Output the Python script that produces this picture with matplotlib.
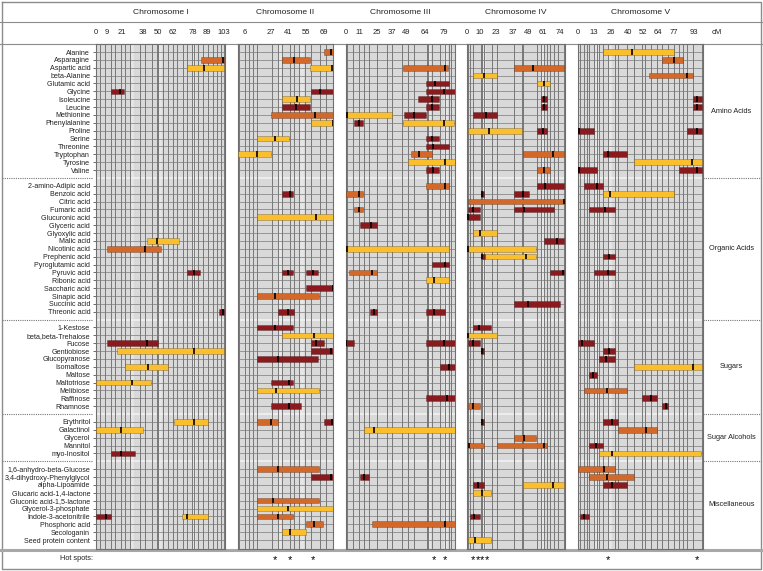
import matplotlib
matplotlib.use("Agg")
import matplotlib.pyplot as plt
from matplotlib.transforms import blended_transform_factory

plt.rcParams["font.family"] = ["Liberation Sans", "DejaVu Sans"]

# ---- traits, grouped ----
groups = ["Amino Acids", "Organic Acids", "Sugars", "Sugar Alcohols", "Miscellaneous"]
amino_acids = ["Alanine", "Asparagine", "Aspartic acid", "beta-Alanine", "Glutamic acid",
               "Glycine", "Isoleucine", "Leucine", "Methionine", "Phenylalanine", "Proline",
               "Serine", "Threonine", "Tryptophan", "Tyrosine", "Valine"]
organic_acids = ["2-amino-Adipic acid", "Benzoic acid", "Citric acid", "Fumaric acid",
                 "Glucuronic acid", "Glyceric acid", "Glyoxylic acid", "Malic acid",
                 "Nicotinic acid", "Prephenic acid", "Pyroglutamic acid", "Pyruvic acid",
                 "Ribonic acid", "Saccharic acid", "Sinapic acid", "Succinic acid",
                 "Threonic acid"]
sugars = ["1-Kestose", "beta,beta-Trehalose", "Fucose", "Gentiobiose", "Glucopyranose",
          "Isomaltose", "Maltose", "Maltotriose", "Melibiose", "Raffinose", "Rhamnose"]
sugar_alcohols = ["Erythritol", "Galactinol", "Glycerol", "Mannitol", "myo-Inositol"]
miscellaneous = ["1,6-anhydro-beta-Glucose", "3,4-dihydroxy-Phenylglycol", "alpha-Lipoamide",
                 "Glucaric acid-1,4-lactone", "Gluconic acid-1,5-lactone",
                 "Glycerol-3-phosphate", "Indole-3-acetonitrile", "Phosphoric acid",
                 "Secologanin", "Seed protein content"]
trait_groups = [amino_acids, organic_acids, sugars, sugar_alcohols, miscellaneous]

# ---- chromosomes (cM) ----
chromosomes = ["Chromosome I", "Chromosome II", "Chromosome III", "Chromosome IV", "Chromosome V"]
chr_length = [104, 77.1, 88, 78.5, 100.4]
chr_ticks = [[0, 9, 21, 38, 50, 62, 78, 89, 103],
             [6, 27, 41, 55, 69],
             [0, 11, 25, 37, 49, 64, 79],
             [0, 10, 23, 37, 49, 61, 74],
             [0, 13, 26, 40, 52, 64, 77, 93]]
markers_1 = [0, 3.5, 7.5, 12, 15.5, 20, 23.5, 27.5, 35.6, 39.6, 45, 49, 50.3, 53.8, 58.3,
             62.3, 65.5, 70.4, 73.6, 77.1, 79, 82.4, 86.4, 90.4, 94, 97.2, 100.4, 103.3]
markers_2 = [0, 1.5, 6.3, 9.5, 12.7, 15.4, 27.4, 32.8, 36, 42.2, 45.4, 49.7, 54.2, 58.8,
             66.3, 71.1, 77]
markers_3 = [0.4, 1.5, 6.3, 11.1, 14.9, 19.1, 25, 33, 37.1, 45.6, 50.4, 55.3, 65.2, 66.5,
             69.7, 75.9, 79.9, 83.1, 84.7, 88]
markers_4 = [0.3, 2.2, 4.3, 10.8, 12, 13.4, 19.6, 23.5, 37.5, 43.7, 44.9, 55.7, 59.2,
             61.8, 64, 66.7, 69.4, 73, 77.7]
markers_5 = [0, 1.6, 4.8, 7, 8.8, 12.9, 15, 16.6, 20.3, 24.3, 29.5, 32.4, 39.6, 45.2, 51.4,
             53.8, 58.6, 63.5, 67.2, 72.5, 76.9, 81.1, 84.6, 87.8, 92.6, 99.4]
markers = [markers_1, markers_2, markers_3, markers_4, markers_5]
# positions where several markers coincide (paler bands in the grid)
marker_bands = [[29, 51.5, 79], [34, 52], [67, 81], [13.5, 61], [15.5, 25.5]]

# ---- QTL intervals: (trait, start, end, peak, class) ----
qtl_1 = [("Asparagine", 84.6, 103, 102.5, "o"), ("Aspartic acid", 73.6, 103.3, 86.7, "y"),
         ("Glycine", 12.5, 22.7, 19.8, "r"), ("Malic acid", 41.2, 66.7, 49.5, "y"),
         ("Nicotinic acid", 8.8, 52.4, 39.4, "o"), ("Pyruvic acid", 73.6, 84, 78.7, "r"),
         ("Threonic acid", 99, 103.3, 102.5, "r"), ("Fucose", 8.8, 49.8, 41.2, "r"),
         ("Gentiobiose", 16.9, 103.3, 78.7, "y"), ("Isomaltose", 23.3, 58.3, 42.2, "y"),
         ("Maltotriose", 0.2, 44.4, 29.2, "y"), ("Erythritol", 62.9, 90.2, 78.7, "y"),
         ("Galactinol", 0.2, 38.2, 20.1, "y"), ("myo-Inositol", 12.5, 31.6, 20.1, "r"),
         ("Indole-3-acetonitrile", 0.2, 12.3, 8.3, "r"),
         ("Indole-3-acetonitrile", 69.3, 90.2, 73.3, "y")]
qtl_2 = [("Alanine", 69.5, 77, 74.7, "o"), ("Asparagine", 36, 58.5, 45.6, "o"),
         ("Aspartic acid", 58.4, 77, 76.1, "y"), ("Glycine", 58.8, 77, 66.3, "r"),
         ("Isoleucine", 36, 58.5, 48, "y"), ("Leucine", 36, 58.5, 47, "r"),
         ("Methionine", 27.2, 77, 62.2, "o"), ("Phenylalanine", 58.8, 77, 76.6, "y"),
         ("Serine", 15.7, 41.4, 30.1, "y"), ("Tryptophan", 0, 27.2, 15.7, "y"),
         ("Benzoic acid", 36, 44.3, 42.2, "r"), ("Glucuronic acid", 15.7, 77, 63.3, "y"),
         ("Pyruvic acid", 36, 44.3, 40.2, "r"), ("Pyruvic acid", 55, 64.9, 60.4, "r"),
         ("Saccharic acid", 55, 77, 76.6, "r"), ("Sinapic acid", 15.7, 65.3, 30.1, "o"),
         ("Threonic acid", 32.8, 45.3, 40.2, "r"), ("1-Kestose", 15.7, 44.3, 30.1, "r"),
         ("beta,beta-Trehalose", 36, 77, 61.2, "y"), ("Fucose", 58.8, 69.2, 63.3, "r"),
         ("Gentiobiose", 58.8, 77, 75.3, "r"), ("Glucopyranose", 15.7, 65, 32.8, "r"),
         ("Maltotriose", 27.2, 44.3, 41.4, "r"), ("Melibiose", 15.7, 65.3, 30.9, "y"),
         ("Rhamnose", 27.2, 50.8, 41.4, "r"), ("Erythritol", 15.7, 32.5, 27, "o"),
         ("Erythritol", 69.5, 77, 76.1, "r"),
         ("1,6-anhydro-beta-Glucose", 15.7, 65.3, 32.8, "o"),
         ("3,4-dihydroxy-Phenylglycol", 58.8, 77, 75.3, "r"),
         ("Gluconic acid-1,5-lactone", 15.7, 65.3, 28.8, "o"),
         ("Glycerol-3-phosphate", 15.7, 77, 40.2, "y"),
         ("Indole-3-acetonitrile", 15.7, 44.3, 32.8, "o"),
         ("Phosphoric acid", 55, 69, 61.7, "o"), ("Secologanin", 36, 55, 42.2, "y")]
qtl_3 = [("Aspartic acid", 45.9, 82.6, 79.9, "o"), ("Glutamic acid", 64.7, 82.9, 72.1, "r"),
         ("Glycine", 64.7, 88, 79.1, "r"), ("Isoleucine", 58.1, 75.5, 69.2, "r"),
         ("Leucine", 64.7, 75.5, 69.2, "r"), ("Methionine", 1, 37.3, 1.5, "y"),
         ("Methionine", 47, 64.4, 55, "r"), ("Phenylalanine", 6.8, 14.3, 11.1, "r"),
         ("Phenylalanine", 45.9, 87.4, 79.1, "y"), ("Serine", 64.7, 75.5, 69.2, "r"),
         ("Threonine", 64.7, 82.9, 70, "r"), ("Tryptophan", 52.4, 69.2, 59, "o"),
         ("Tyrosine", 50.2, 88, 79.9, "y"), ("Valine", 64.7, 75.5, 70, "r"),
         ("2-amino-Adipic acid", 64.7, 82.9, 79.9, "o"), ("Benzoic acid", 0.4, 14.3, 10.6, "o"),
         ("Fumaric acid", 6.8, 14.3, 10.6, "o"), ("Glyceric acid", 11.4, 25.3, 20.5, "r"),
         ("Nicotinic acid", 0.4, 82.9, 1.5, "y"), ("Pyroglutamic acid", 69.6, 82.9, 79.9, "r"),
         ("Pyruvic acid", 2.8, 25.3, 21.4, "o"), ("Ribonic acid", 64.9, 82.9, 71.1, "y"),
         ("Threonic acid", 19.7, 25.3, 22.5, "r"), ("Threonic acid", 64.7, 80, 71.1, "r"),
         ("Fucose", 0.4, 6.6, 0.6, "r"), ("Fucose", 64.7, 88, 79.1, "r"),
         ("Isomaltose", 76.1, 88, 83.2, "r"), ("Raffinose", 64.7, 88, 81.3, "r"),
         ("Galactinol", 14.9, 88, 22.9, "y"),
         ("3,4-dihydroxy-Phenylglycol", 11.4, 18.6, 14.9, "r"),
         ("Phosphoric acid", 21.4, 88, 79.9, "o")]
qtl_4 = [("Aspartic acid", 37.5, 77.7, 52.4, "o"), ("beta-Alanine", 4.3, 23.6, 13.4, "y"),
         ("Glutamic acid", 55.7, 66.4, 61.6, "y"), ("Isoleucine", 59, 63.9, 61.4, "r"),
         ("Leucine", 59, 63.9, 61.4, "r"), ("Methionine", 4.6, 23.6, 15.3, "r"),
         ("Proline", 0.3, 43.7, 17.3, "y"), ("Proline", 55.7, 63.9, 61, "r"),
         ("Tryptophan", 44.8, 77.5, 68.8, "o"), ("Valine", 55.7, 66.4, 61.4, "o"),
         ("2-amino-Adipic acid", 55.7, 77.7, 62.6, "r"), ("Benzoic acid", 10.8, 13.4, 12, "r"),
         ("Benzoic acid", 37.5, 49.3, 44.8, "r"), ("Citric acid", 0.3, 78.5, 78, "o"),
         ("Fumaric acid", 0.6, 10.2, 4.3, "r"), ("Fumaric acid", 37.5, 69.4, 45.3, "r"),
         ("Glucuronic acid", 0.3, 10.2, 0.5, "r"), ("Glyoxylic acid", 4.3, 23.6, 10.6, "y"),
         ("Malic acid", 61.8, 77.7, 71.9, "r"), ("Nicotinic acid", 0.3, 55.4, 0.5, "y"),
         ("Prephenic acid", 10.8, 55.4, 47.4, "y"), ("Prephenic acid", 10.8, 14.1, 12, "r"),
         ("Pyruvic acid", 66.7, 77.7, 76.6, "r"), ("Succinic acid", 37.5, 74.5, 48.7, "r"),
         ("1-Kestose", 4.6, 19, 9.4, "r"), ("beta,beta-Trehalose", 0.3, 23.6, 0.5, "y"),
         ("Fucose", 0.6, 10.2, 4.3, "r"), ("Gentiobiose", 10.8, 13.4, 12, "r"),
         ("Rhamnose", 0.6, 10.2, 4.3, "o"), ("Erythritol", 10.8, 13.4, 12, "r"),
         ("Glycerol", 37.5, 55.4, 45.3, "o"), ("Mannitol", 0.6, 13.4, 1.3, "o"),
         ("Mannitol", 23.9, 63.8, 61.8, "o"), ("alpha-Lipoamide", 4.6, 13.1, 8.8, "r"),
         ("alpha-Lipoamide", 44.8, 77.7, 68.8, "y"),
         ("Glucaric acid-1,4-lactone", 4.6, 19, 12, "y"),
         ("Indole-3-acetonitrile", 1.9, 10.4, 5.1, "r"),
         ("Seed protein content", 0.6, 19, 6.2, "y")]
qtl_5 = [("Alanine", 20.3, 76.9, 43.4, "y"), ("Asparagine", 67.2, 84.6, 77.4, "o"),
         ("beta-Alanine", 57, 92.6, 87.6, "o"), ("Isoleucine", 92.6, 99.4, 95.8, "r"),
         ("Leucine", 92.6, 99.4, 95.8, "r"), ("Proline", 0, 12.6, 0.5, "r"),
         ("Proline", 87.8, 99.4, 95.8, "r"), ("Tryptophan", 20.3, 39.6, 24.3, "r"),
         ("Tyrosine", 45.2, 99.8, 91.8, "y"), ("Valine", 0, 15.3, 0.5, "r"),
         ("Valine", 81, 99.4, 95.8, "r"), ("2-amino-Adipic acid", 4.8, 20, 15, "r"),
         ("Benzoic acid", 20.3, 76.9, 25.7, "y"), ("Fumaric acid", 8.8, 29.5, 21.7, "r"),
         ("Prephenic acid", 20.3, 29.5, 24.6, "r"), ("Pyruvic acid", 12.9, 29.5, 24.3, "r"),
         ("Fucose", 0, 12.6, 3, "r"), ("Gentiobiose", 20.3, 29.5, 24.6, "r"),
         ("Glucopyranose", 16.6, 29.5, 22.2, "r"), ("Isomaltose", 45.2, 99.8, 92.6, "y"),
         ("Maltose", 8.8, 15.3, 12.3, "r"), ("Melibiose", 4.8, 39.6, 23.3, "o"),
         ("Raffinose", 51.4, 63.5, 58.6, "r"), ("Rhamnose", 67.2, 72.5, 70.4, "r"),
         ("Erythritol", 20.3, 32.1, 27.3, "r"), ("Galactinol", 32.1, 63.5, 54.6, "o"),
         ("Mannitol", 8.8, 20, 14.2, "r"), ("myo-Inositol", 16.6, 99, 27.3, "y"),
         ("1,6-anhydro-beta-Glucose", 0, 29.5, 21.1, "o"),
         ("3,4-dihydroxy-Phenylglycol", 8.8, 44.9, 23.3, "o"),
         ("alpha-Lipoamide", 20.3, 39.6, 27.3, "r"),
         ("Indole-3-acetonitrile", 1.6, 8.6, 5.1, "r")]
qtls = [qtl_1, qtl_2, qtl_3, qtl_4, qtl_5]

hot_spots = [[], [30.1, 42.2, 60.8], [71.1, 80.2], [4.3, 8.4, 12, 15.6], [23.7, 95.8]]

class_color = {"r": "#8b1a1f", "o": "#d2692a", "y": "#fbbf2d"}

# ---- layout (pixels of a 763 x 571 canvas) ----
W, H = 763, 571
px_per_cm = 1.245
panel_left = [95.7, 237.5, 345.5, 467.3, 578.0]
panel_top, panel_bottom = 43.5, 549.0
row_step = 7.871
first_row_y = 52.0

# row index of each trait, one blank row between groups
row_of = {}
gap_rows = []
r = 0
for gi, names in enumerate(trait_groups):
    for n in names:
        row_of[n] = r
        r += 1
    if gi < len(trait_groups) - 1:
        gap_rows.append(r)
        r += 1
data_rows = list(row_of.values())
y_top = (panel_top - first_row_y) / row_step
y_bot = (panel_bottom - first_row_y) / row_step


def fx(px):
    return px / W


def fy(py):
    return 1 - py / H


def row_px(row):
    return first_row_y + row * row_step


fig = plt.figure(figsize=(W / 100, H / 100), dpi=100)

# frame and separators drawn in a full-canvas pixel axes
ov = fig.add_axes([0, 0, 1, 1], zorder=0)
ov.set_xlim(0, W)
ov.set_ylim(H, 0)
ov.axis("off")
frame = "#8c8c8c"
ov.plot([1.5, 761, 761, 1.5, 1.5], [1.5, 1.5, 569, 569, 1.5], color=frame, lw=1)
ov.axhline(22, color=frame, lw=0.8)
ov.axhline(43.5, color=frame, lw=0.8)
ov.axhline(549.5, color="#a8a8a8", lw=2.2)
for g in gap_rows:
    y = row_px(g)
    ov.plot([2, 93], [y, y], color="#777777", lw=0.8, ls=(0, (1, 1)))
    ov.plot([703, 760], [y, y], color="#777777", lw=0.8, ls=(0, (1, 1)))

for ci in range(5):
    L = chr_length[ci]
    left = panel_left[ci]
    width = L * px_per_cm
    ax = fig.add_axes([fx(left), fy(panel_bottom), width / W,
                       (panel_bottom - panel_top) / H], zorder=2)
    ax.set_xlim(0, L)
    ax.set_ylim(y_bot, y_top)
    ax.set_facecolor("#d9d9d9")
    for s in ax.spines.values():
        s.set_color("#6f6f6f")
        s.set_linewidth(0.8)
    ax.set_xticks([])

    ax.vlines(marker_bands[ci], y_top, y_bot, color="#e6e6e6", lw=2.6, zorder=0.5)
    ax.hlines(data_rows, 0, L, color="#8a8a8a", lw=0.6, zorder=1)
    ax.hlines(gap_rows, 0, L, color="#f2f2f2", lw=1.2, zorder=1)
    ax.vlines(markers[ci], y_top, y_bot, color="#777777", lw=0.7, zorder=1)

    for name, a, b, pk, cl in qtls[ci]:
        row = row_of[name]
        ax.barh(row, b - a, left=a, height=0.72, color=class_color[cl],
                edgecolor=(0, 0, 0, 0.3), linewidth=0.5, zorder=3)
        ax.vlines(pk, row - 0.36, row + 0.36, color="black", lw=1.2, zorder=4)

    if ci == 0:
        ax.set_yticks(data_rows)
        ax.set_yticklabels(list(row_of.keys()), fontsize=5.15, color="#222222")
        ax.tick_params(axis="y", length=2.5, width=0.6, color="#555555", pad=1.5)
    else:
        ax.set_yticks([])

    tr = blended_transform_factory(ax.transData, fig.transFigure)
    ax.text(L / 2, fy(12.5), chromosomes[ci], transform=tr, ha="center", va="center",
            fontsize=6.1, color="#222222")
    for t in chr_ticks[ci]:
        ax.text(t, fy(33), str(t), transform=tr, ha="center", va="center", fontsize=5.5,
                color="#222222")
    for h in hot_spots[ci]:
        ax.text(h, fy(560), "*", transform=tr, ha="center", va="center", fontsize=8)

fig.text(fx(717), fy(33), "cM", ha="center", va="center", fontsize=5.5, color="#222222")
fig.text(fx(93), fy(559), "Hot spots:", ha="right", va="center", fontsize=5.3,
         color="#222222")

for gi, names in enumerate(trait_groups):
    rows = [row_of[n] for n in names]
    yc = row_px((rows[0] + rows[-1]) / 2)
    fig.text(fx(731.5), fy(yc), groups[gi], ha="center", va="center", fontsize=5.3,
             color="#222222")

fig.savefig("out.png", dpi=100)
plt.close(fig)
